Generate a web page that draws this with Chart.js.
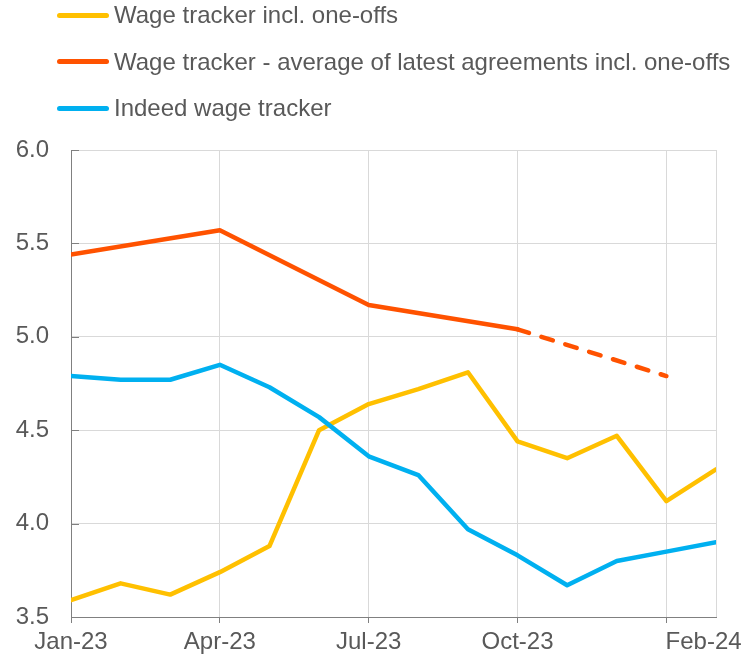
<!DOCTYPE html>
<html>
<head>
<meta charset="utf-8">
<script src="https://cdn.jsdelivr.net/npm/chart.js@4.4.0/dist/chart.umd.min.js"></script>
<style>
body { margin: 0; background: #fff; font-family: "Liberation Sans", Arial, sans-serif; }
#wrap { position: relative; width: 750px; height: 658px; }
#legend { position: absolute; left: 57px; top: -8px; z-index: 2; }
.item { display: flex; align-items: center; height: 46.5px; color: #595959; font-size: 24px; white-space: nowrap; }
.swatch { width: 52px; height: 5px; border-radius: 3px; margin-right: 5px; }
</style>
</head>
<body>
<div id="wrap">
  <div id="legend"></div>
  <canvas id="chart" width="750" height="658"></canvas>
</div>
<script>
// Months on the x axis
let months = ['Jan-23', 'Feb-23', 'Mar-23', 'Apr-23', 'May-23', 'Jun-23', 'Jul-23',
              'Aug-23', 'Sep-23', 'Oct-23', 'Nov-23', 'Dec-23', 'Jan-24', 'Feb-24'];

// Series values (%)
let wageTracker = [3.59, 3.68, 3.62, 3.74, 3.88, 4.50, 4.64, 4.72, 4.81, 4.44, 4.35, 4.47, 4.12, 4.29];
let latestAgreements = [5.44, null, null, 5.57, null, null, 5.17, null, null, 5.04, null, null, null, null];
let latestAgreementsOutlook = [null, null, null, null, null, null, null, null, null, 5.04, null, null, 4.79, null];
let indeedTracker = [4.79, 4.77, 4.77, 4.85, 4.73, 4.57, 4.36, 4.26, 3.97, 3.83, 3.67, 3.80, 3.85, 3.90];

// Tick labels (Feb-24 sits just right of the Jan-24 tick, as in the original)
let xTickLabels = { 0: 'Jan-23', 3: 'Apr-23', 6: 'Jul-23', 9: 'Oct-23', 12.75: 'Feb-24' };
let yTicks = [3.5, 4.0, 4.5, 5.0, 5.5, 6.0];

let yellow = '#FFC000';
let red = '#FF5200';
let blue = '#00B0F0';
let fontFamily = '"Liberation Sans", Arial, sans-serif';

// legend as html (the dashed part has no entry)
let legendItems = [
    ['Wage tracker incl. one-offs', yellow],
    ['Wage tracker - average of latest agreements incl. one-offs', red],
    ['Indeed wage tracker', blue]
];
let legendHtml = '';
for (let i = 0; i < legendItems.length; i++) {
    legendHtml += '<div class="item"><div class="swatch" style="background:' + legendItems[i][1] + '"></div>' + legendItems[i][0] + '</div>';
}
document.getElementById('legend').innerHTML = legendHtml;

function points(arr) {
    return arr.map((v, i) => ({ x: i, y: v }));
}

function line(data, color, dash) {
    return {
        data: points(data),
        borderColor: color,
        backgroundColor: color,
        borderWidth: 4.5,
        borderDash: dash || [],
        borderCapStyle: 'round',
        borderJoinStyle: 'round',
        pointRadius: 0,
        tension: 0,
        spanGaps: true
    };
}

// short tick marks on the inside of the y axis
let innerTicks = {
    id: 'innerTicks',
    afterDatasetsDraw(chart) {
        let ctx = chart.ctx;
        let y = chart.scales.y;
        let left = chart.chartArea.left;
        ctx.save();
        ctx.strokeStyle = '#808080';
        ctx.lineWidth = 1;
        yTicks.forEach(v => {
            let py = Math.round(y.getPixelForValue(v)) + 0.5;
            ctx.beginPath();
            ctx.moveTo(left, py);
            ctx.lineTo(left + 8, py);
            ctx.stroke();
        });
        ctx.restore();
    }
};

let hidden = 'rgba(0,0,0,0)';

new Chart(document.getElementById('chart'), {
    type: 'line',
    data: {
        datasets: [
            line(latestAgreementsOutlook, red, [12, 13]),
            line(latestAgreements, red),
            line(indeedTracker, blue),
            line(wageTracker, yellow)
        ]
    },
    options: {
        responsive: false,
        animation: false,
        layout: { padding: { top: 150, right: 34, left: 0, bottom: 0 } },
        plugins: { legend: { display: false }, tooltip: { enabled: false } },
        scales: {
            x: {
                type: 'linear',
                min: 0,
                max: months.length - 1,
                afterBuildTicks: (scale) => {
                    scale.ticks = [0, 3, 6, 9, 12, 12.75, 13].map(v => ({ value: v }));
                },
                afterFit: (scale) => { scale.height = 41; },
                border: { color: '#808080', width: 1 },
                grid: {
                    color: (c) => (c.tick && c.tick.value === 12.75) ? hidden : '#d9d9d9',
                    tickColor: (c) => (c.tick && (c.tick.value === 12.75 || c.tick.value === 13)) ? hidden : '#808080',
                    tickLength: 6
                },
                ticks: {
                    autoSkip: false,
                    maxRotation: 0,
                    padding: 5,
                    color: '#595959',
                    font: { family: fontFamily, size: 24 },
                    callback: (v) => xTickLabels[v] || ''
                }
            },
            y: {
                min: 3.5,
                max: 6.0,
                afterBuildTicks: (scale) => {
                    scale.ticks = yTicks.map(v => ({ value: v }));
                },
                afterFit: (scale) => { scale.width = 71; },
                border: { color: '#808080', width: 1 },
                grid: { color: '#d9d9d9', drawTicks: false },
                ticks: {
                    padding: 22,
                    color: '#595959',
                    font: { family: fontFamily, size: 24 },
                    callback: (v) => v.toFixed(1)
                }
            }
        }
    },
    plugins: [innerTicks]
});
</script>
</body>
</html>
